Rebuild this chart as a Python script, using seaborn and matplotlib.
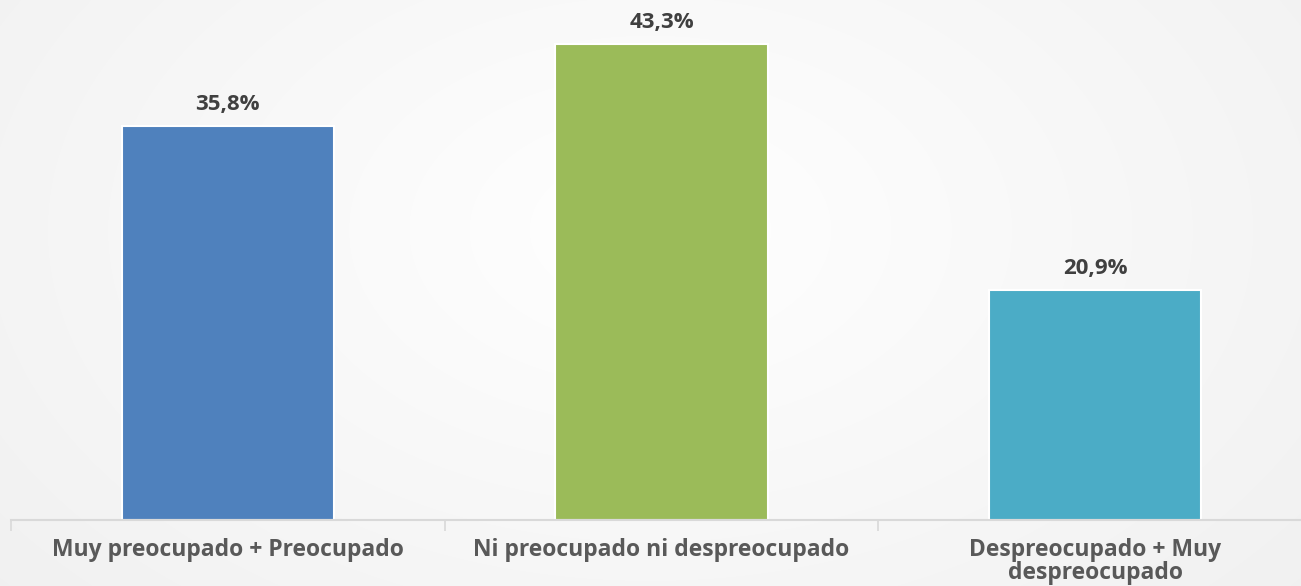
import numpy as np
import pandas as pd
import matplotlib
matplotlib.use('Agg')
import matplotlib.pyplot as plt
import seaborn as sns

# Data
categorias = ['Muy preocupado + Preocupado', 'Ni preocupado ni despreocupado',
              'Despreocupado + Muy\ndespreocupado']
porcentajes = [35.8, 43.3, 20.9]
etiquetas = ['35,8%', '43,3%', '20,9%']
colores = ['#4F81BD', '#9BBB59', '#4BACC6']

sns.set_style('white')
plt.rcParams['font.family'] = ['Open Sans', 'DejaVu Sans']

df = pd.DataFrame({'categoria': categorias, 'valor': porcentajes})

fig = plt.figure(figsize=(13.01, 5.86), dpi=100)

# subtle radial background
bg = fig.add_axes([0, 0, 1, 1], zorder=-10)
yy, xx = np.mgrid[0:586, 0:1301]
r = np.sqrt(((xx - 650) / 650.0) ** 2 + ((yy - 230) / 420.0) ** 2)
shade = 1.0 - 0.055 * np.clip(r, 0, 1.3) / 1.3
bg.imshow(np.dstack([shade, shade, shade]), aspect='auto', extent=[0, 1, 0, 1])
bg.axis('off')

ax = fig.add_axes([11 / 1301, 66 / 586, 1301 / 1301, 520 / 586])
ax.patch.set_alpha(0)

sns.barplot(data=df, x='categoria', y='valor', hue='categoria', palette=colores,
            saturation=1, width=0.49, edgecolor='white', linewidth=1.5,
            legend=False, ax=ax)

for i, (v, t) in enumerate(zip(porcentajes, etiquetas)):
    ax.text(i, v + 1.0, t, ha='center', va='bottom', fontsize=16,
            fontweight='bold', color='#404040')

ax.set_ylim(0, 47.3)
ax.set_xlim(-0.5, 2.5)
ax.set_xlabel('')
ax.set_ylabel('')
ax.set_yticks([])
ax.set_xticks([0, 1, 2])
ax.set_xticklabels(categorias, fontsize=16.5, fontweight='bold', color='#595959',
                   linespacing=0.95)
ax.tick_params(axis='x', which='major', length=0, pad=13)
# category separator ticks
ax.set_xticks([-0.5, 0.5, 1.5, 2.5], minor=True)
ax.tick_params(axis='x', which='minor', bottom=True, length=8, color='#D9D9D9',
               width=1.2, direction='out')

for s in ['top', 'right', 'left']:
    ax.spines[s].set_visible(False)
ax.spines['bottom'].set_color('#D9D9D9')
ax.spines['bottom'].set_linewidth(1.5)

fig.savefig('out.png', dpi=100)
